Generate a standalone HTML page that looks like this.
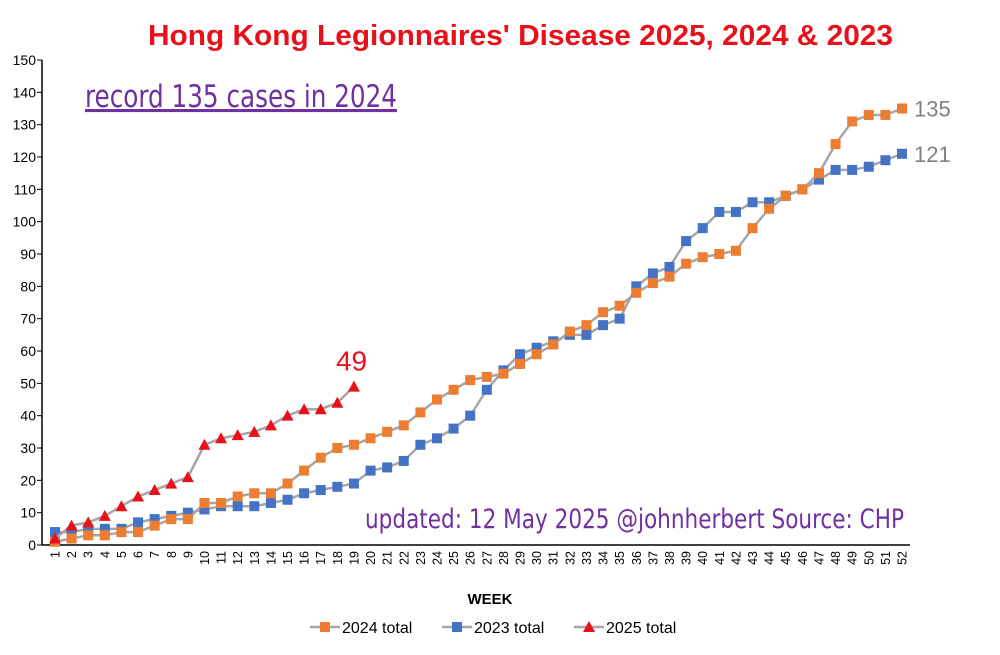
<!DOCTYPE html>
<html><head><meta charset="utf-8"><style>
body{margin:0;background:#fff;width:1000px;height:650px;overflow:hidden;font-family:"Liberation Sans",sans-serif}
</style></head><body>
<svg width="1000" height="650" id="chart" style="font-family:'Liberation Sans',sans-serif">
<text x="148" y="45" fill="#e8101a" font-size="29" font-weight="bold" textLength="745" lengthAdjust="spacingAndGlyphs">Hong Kong Legionnaires' Disease 2025, 2024 &amp; 2023</text>
<text x="85" y="107" fill="#7030a0" font-size="31" font-family="'DejaVu Sans Condensed','Liberation Sans Narrow',sans-serif" text-decoration="underline" textLength="312" lengthAdjust="spacingAndGlyphs">record 135 cases in 2024</text>
<text x="365" y="528" fill="#7030a0" font-size="27" font-family="'DejaVu Sans Condensed','Liberation Sans Narrow',sans-serif" textLength="539" lengthAdjust="spacingAndGlyphs">updated: 12 May 2025  @johnherbert  Source: CHP</text>
<g id="axes"></g><g id="series"></g>
<text x="490" y="604" text-anchor="middle" font-size="15" font-weight="bold">WEEK</text>
<g font-size="16">
<line x1="310" y1="627" x2="340" y2="627" stroke="#a6a6a6" stroke-width="2.5"/><rect x="320" y="622" width="10" height="10" fill="#ed7d31"/><text x="342" y="633">2024 total</text>
<line x1="442" y1="627" x2="472" y2="627" stroke="#a6a6a6" stroke-width="2.5"/><rect x="452" y="622" width="10" height="10" fill="#4472c4"/><text x="474" y="633">2023 total</text>
<line x1="574" y1="627" x2="604" y2="627" stroke="#a6a6a6" stroke-width="2.5"/><polygon points="589,621 595,632 583,632" fill="#e8101a"/><text x="606" y="633">2025 total</text>
</g>
</svg>
<script>
const weeks=[];for(let i=1;i<=52;i++)weeks.push(i);
const yTicks=[0,10,20,30,40,50,60,70,80,90,100,110,120,130,140,150];
const s2024=[1,2,3,3,4,4,6,8,8,13,13,15,16,16,19,23,27,30,31,33,35,37,41,45,48,51,52,53,56,59,62,66,68,72,74,78,81,83,87,89,90,91,98,104,108,110,115,124,131,133,133,135];
const s2023=[4,4,5,5,5,7,8,9,10,11,12,12,12,13,14,16,17,18,19,23,24,26,31,33,36,40,48,54,59,61,63,65,65,68,70,80,84,86,94,98,103,103,106,106,108,110,113,116,116,117,119,121];
const s2025=[2,6,7,9,12,15,17,19,21,31,33,34,35,37,40,42,42,44,49];
const NS="http://www.w3.org/2000/svg";
const X=w=>55+(w-1)*(847/51), Y=v=>545-v*(485/150);
function mk(t,a,p){const e=document.createElementNS(NS,t);for(const k in a)e.setAttribute(k,a[k]);p.appendChild(e);return e;}
const ax=document.getElementById('axes'), sr=document.getElementById('series');
let l=mk('line',{x1:42,y1:60,x2:42,y2:545,stroke:'#000','stroke-width':1.5},ax);


l=mk('line',{x1:42,y1:545,x2:910,y2:545,stroke:'#000','stroke-width':1.5},ax);


yTicks.forEach(v=>{mk('line',{x1:37,y1:Y(v),x2:42,y2:Y(v),stroke:'#000'},ax);
const t=mk('text',{x:36,y:Y(v)+5,'text-anchor':'end','font-size':14},ax);t.textContent=v;

});
weeks.forEach(w=>{const t=mk('text',{transform:`translate(${X(w)+4.5},${551}) rotate(-90)`,'text-anchor':'end','font-size':12.5},ax);t.textContent=w;

});
function series(data,color,shape,name){
const g=mk('g',{},sr);


mk('polyline',{points:data.map((v,i)=>X(i+1)+','+Y(v)).join(' '),fill:'none',stroke:'#a6a6a6','stroke-width':2.5},g);
data.forEach((v,i)=>{const x=X(i+1),y=Y(v);let m;
if(shape==='sq')m=mk('rect',{x:x-5,y:y-5,width:10,height:10,fill:color},g);
else m=mk('polygon',{points:`${x},${y-6} ${x+6},${y+5} ${x-6},${y+5}`,fill:color},g);

});
return g;}
series(s2023,'#4472c4','sq','series-2023');
series(s2024,'#ed7d31','sq','series-2024');
series(s2025,'#e8101a','tri','series-2025');
function lab(txt,x,y,c,sz,n){const t=mk('text',{x:x,y:y,fill:c,'font-size':sz},sr);t.textContent=txt;

}
lab(s2024[51],X(52)+12,Y(s2024[51])+8,'#808080',22,'label-2024-final');
lab(s2023[51],X(52)+12,Y(s2023[51])+8,'#808080',22,'label-2023-final');
lab(s2025[s2025.length-1],X(s2025.length)-18,Y(s2025[s2025.length-1])-16,'#e8101a',28,'label-2025-latest');
</script>
</body></html>
